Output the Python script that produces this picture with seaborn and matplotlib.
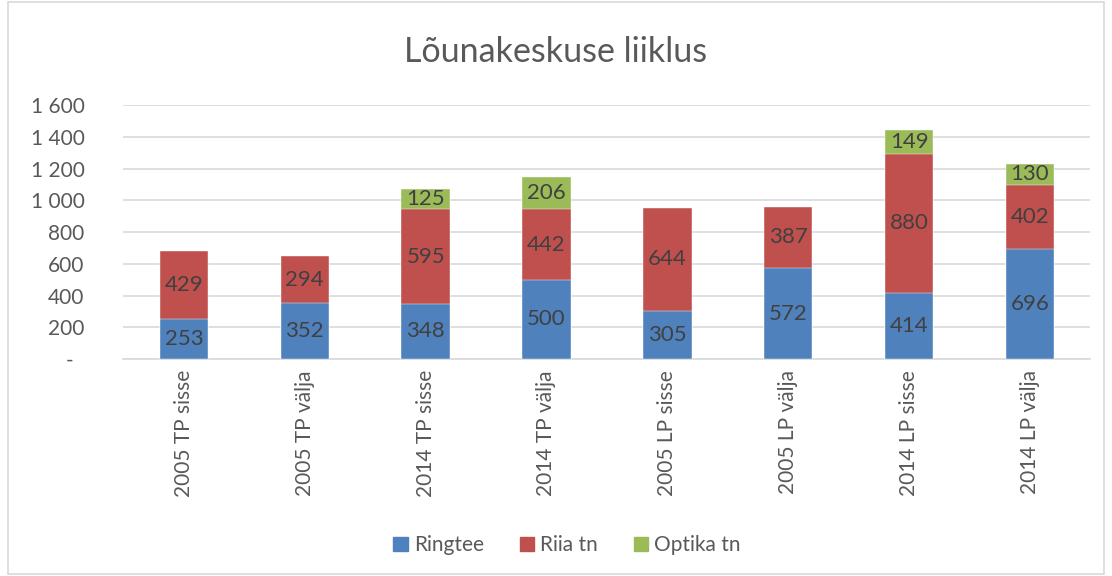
import matplotlib
matplotlib.use("Agg")
import matplotlib.pyplot as plt
import matplotlib.patches as mpatches
import seaborn as sns
import pandas as pd
import numpy as np

categories = ['2005 TP sisse', '2005 TP välja', '2014 TP sisse', '2014 TP välja',
              '2005 LP sisse', '2005 LP välja', '2014 LP sisse', '2014 LP välja']
ringtee = [253, 352, 348, 500, 305, 572, 414, 696]
riia = [429, 294, 595, 442, 644, 387, 880, 402]
optika = [0, 0, 125, 206, 0, 0, 149, 130]
series_names = ['Ringtee', 'Riia tn', 'Optika tn']
colors = ['#4F81BD', '#C0504D', '#9BBB59']
yticks = [0, 200, 400, 600, 800, 1000, 1200, 1400, 1600]

sns.set_style('white')
plt.rcParams['font.family'] = ['Lato', 'DejaVu Sans']
text_color = '#595959'

df = pd.DataFrame({'kategooria': categories, 'Ringtee': ringtee,
                   'Riia tn': riia, 'Optika tn': optika})
df['c1'] = df['Ringtee']
df['c2'] = df['c1'] + df['Riia tn']
df['c3'] = df['c2'] + df['Optika tn']

fig = plt.figure(figsize=(11.12, 5.76), dpi=100)
ax = fig.add_axes([0.111, 0.3767, 0.8696, 0.441])

# draw cumulative totals back to front
for col, color in zip(['c3', 'c2', 'c1'], colors[::-1]):
    sns.barplot(data=df, x='kategooria', y=col, color=color, width=0.4,
                saturation=1, ax=ax, zorder=3, edgecolor='white', linewidth=0.3)

# data labels in segment centres
for i in range(len(categories)):
    bottom = 0
    for name in series_names:
        v = df[name].iloc[i]
        if v > 0:
            ax.text(i, bottom + v / 2, f'{v}', ha='center', va='center',
                    fontsize=16, color='#404040', zorder=5)
        bottom += v

ax.set_ylim(0, 1600)
ax.set_xlim(-0.5, len(categories) - 0.5)
ax.set_yticks(yticks)
ax.set_yticklabels(['-  ' if t == 0 else f'{t:,}'.replace(',', ' ') for t in yticks])
ax.grid(axis='y', color='#D9D9D9', linewidth=1.2, zorder=0)
ax.set_axisbelow(True)
ax.tick_params(axis='y', length=0, pad=28, labelsize=15, labelcolor=text_color)
ax.tick_params(axis='x', length=0, pad=8, labelsize=15, labelcolor=text_color)
for lbl in ax.get_yticklabels():
    lbl.set_horizontalalignment('right')
plt.setp(ax.get_xticklabels(), rotation=90)
ax.set_xlabel('')
ax.set_ylabel('')
for s in ['top', 'right', 'left']:
    ax.spines[s].set_visible(False)
ax.spines['bottom'].set_color('#D9D9D9')
ax.spines['bottom'].set_linewidth(1.2)

fig.text(0.5, 0.91, 'Lõunakeskuse liiklus', ha='center', va='center',
         fontsize=24.5, color=text_color)

handles = [mpatches.Patch(color=c, label=n) for c, n in zip(colors, series_names)]
fig.legend(handles=handles, loc='center', bbox_to_anchor=(0.51, 0.053), ncol=3,
           frameon=False, fontsize=15, labelcolor=text_color, handlelength=0.7,
           handleheight=0.7, handletextpad=0.3, columnspacing=1.7)

# chart border
fig.patches.append(mpatches.Rectangle((0.0075, 0.004), 0.985, 0.992,
                                      transform=fig.transFigure, fill=False,
                                      edgecolor='#D9D9D9', linewidth=1.2))

fig.savefig('out.png', dpi=100)
